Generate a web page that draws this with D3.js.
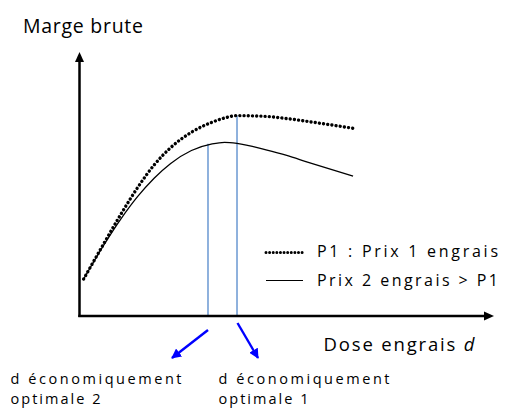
<!DOCTYPE html>
<html><head><meta charset="utf-8">
<script src="https://cdn.jsdelivr.net/npm/d3@7"></script>
<style>body{margin:0;background:#fff}svg{display:block}text{font-family:"Open Sans","Noto Sans",sans-serif;fill:#000}</style>
</head><body><svg id="c" width="507" height="408"></svg>
<script>
const doses      = [0.1, 0.6, 1.0, 1.4, 1.8, 2.2, 2.7, 3.2, 3.5, 3.8, 4.5, 5.0, 5.5, 6.6];
const margeP1    = [1.40, 2.78, 3.86, 4.86, 5.72, 6.38, 6.96, 7.34, 7.50, 7.59, 7.56, 7.48, 7.37, 7.11];
const margeP2    = [1.40, 2.72, 3.68, 4.52, 5.22, 5.78, 6.27, 6.52, 6.58, 6.54, 6.29, 6.08, 5.83, 5.30];
const optDoses   = [3.8, 3.1];
const optMarges  = [7.59, 6.52];
const legendLabels = ["P1 : Prix 1 engrais", "Prix 2 engrais > P1"];
const optLabels  = [["d économiquement", "optimale 1"], ["d économiquement", "optimale 2"]];

const svg = d3.select("#c");
const x = d3.scaleLinear().domain([0, 10]).range([79.5, 494]);
const y = d3.scaleLinear().domain([0, 10]).range([316, 52]);

const defs = svg.append("defs");
defs.append("marker").attr("id","blueHead").attr("viewBox","0 0 10 10").attr("refX",9).attr("refY",5)
  .attr("markerWidth",10).attr("markerHeight",10).attr("markerUnits","userSpaceOnUse").attr("orient","auto")
  .append("path").attr("d","M0,0 L10,5 L0,10 Z").attr("fill","#0000ff");

// vertical optimum lines
svg.selectAll("line.opt").data(optDoses).join("line").attr("class","opt")
  .attr("x1", d => x(d)).attr("x2", d => x(d))
  .attr("y1", (d,i) => y(optMarges[i])).attr("y2", y(0))
  .attr("stroke", "#6a98d2").attr("stroke-width", 1.5);

const line = d3.line().x((d,i) => x(doses[i])).y(d => y(d)).curve(d3.curveMonotoneX);
svg.append("path").attr("d", line(margeP2)).attr("fill","none").attr("stroke","#000").attr("stroke-width",1.3);
svg.append("path").attr("d", line(margeP1)).attr("fill","none").attr("stroke","#000").attr("stroke-width",3.4)
  .attr("stroke-linecap","round").attr("stroke-dasharray","0.01 4.2");

// axes
svg.append("line").attr("x1", x(0)).attr("x2", x(0)).attr("y1", y(0)+1).attr("y2", y(10)+8)
  .attr("stroke","#000").attr("stroke-width",2.5);
svg.append("path").attr("d", `M${x(0)},${y(10)} L${x(0)-4.5},${y(10)+10} L${x(0)+4.5},${y(10)+10} Z`).attr("fill","#000");
svg.append("line").attr("x1", x(0)-1.2).attr("x2", x(10)-8).attr("y1", y(0)).attr("y2", y(0))
  .attr("stroke","#000").attr("stroke-width",2.5);
svg.append("path").attr("d", `M${x(10)},${y(0)} L${x(10)-10},${y(0)-4.5} L${x(10)-10},${y(0)+4.5} Z`).attr("fill","#000");

// axis titles
svg.append("text").attr("x",23).attr("y",33).attr("font-size",19.5).attr("textLength",120).attr("lengthAdjust","spacing").text("Marge brute");
const xt = svg.append("text").attr("x",323.5).attr("y",351).attr("font-size",18.5).attr("textLength",151).attr("lengthAdjust","spacing");
xt.append("tspan").text("Dose engrais ");
xt.append("tspan").attr("font-style","italic").text("d");

// legend
const lg = svg.append("g");
lg.append("line").attr("x1",266).attr("x2",303).attr("y1",252.5).attr("y2",252.5).attr("stroke","#000")
  .attr("stroke-width",3).attr("stroke-linecap","round").attr("stroke-dasharray","0.01 3.6");
lg.append("line").attr("x1",266).attr("x2",303).attr("y1",280.5).attr("y2",280.5).attr("stroke","#000").attr("stroke-width",1.2);
lg.selectAll("text").data(legendLabels).join("text")
  .attr("x",317).attr("y",(d,i)=>257+i*28.7).attr("font-size",16)
  .attr("textLength",181).attr("lengthAdjust","spacing").text(d=>d);

// arrows to labels
const arrows = [
  {x1: x(optDoses[0]) + 0.5, y1: 323, x2: 258, y2: 358},
  {x1: x(optDoses[1]), y1: 330, x2: 172, y2: 358}
];
svg.selectAll("line.arr").data(arrows).join("line").attr("class","arr")
  .attr("x1",d=>d.x1).attr("y1",d=>d.y1).attr("x2",d=>d.x2).attr("y2",d=>d.y2)
  .attr("stroke","#0000ff").attr("stroke-width",2.4).attr("marker-end","url(#blueHead)");

const labX = [218.5, 10.5];
optLabels.forEach((lines,k) => {
  svg.append("text").attr("font-size",14.5).attr("x",labX[k]).attr("y",384)
    .attr("textLength",171).attr("lengthAdjust","spacing").text(lines[0]);
  svg.append("text").attr("font-size",14.5).attr("x",labX[k]).attr("y",404)
    .attr("textLength",90).attr("lengthAdjust","spacing").text(lines[1]);
});
</script></body></html>
